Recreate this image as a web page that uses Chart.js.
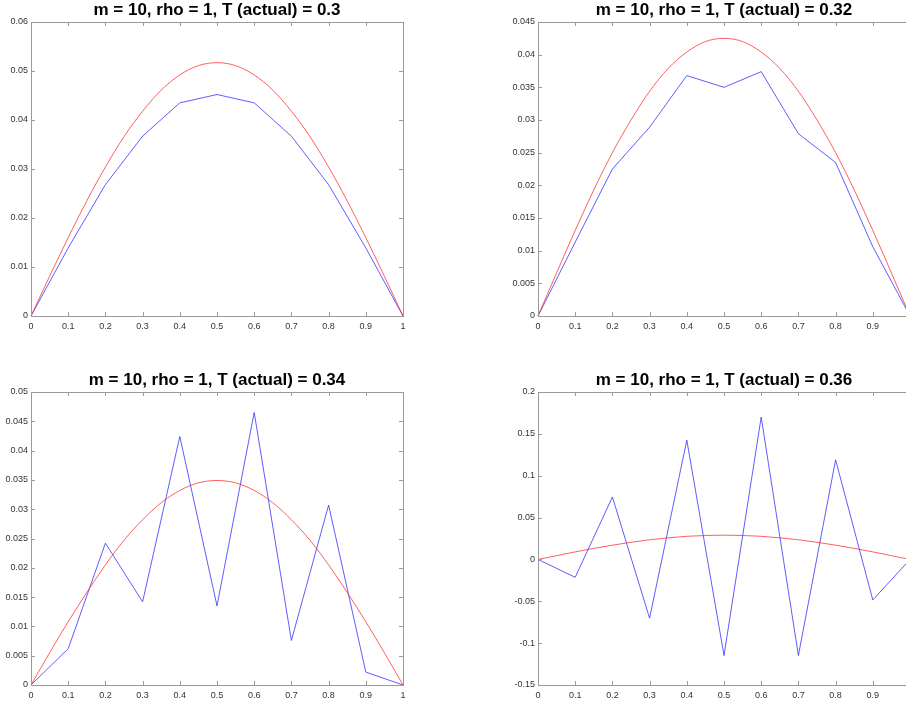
<!DOCTYPE html>
<html>
<head>
<meta charset="UTF-8">
<title>m = 10, rho = 1</title>
<script src="https://cdn.jsdelivr.net/npm/chart.js"></script>
<style>
  html, body { margin: 0; padding: 0; background: #fff; overflow: hidden; width: 906px; height: 702px; }
  .panel { position: absolute; }
</style>
</head>
<body>
<div class="panel" style="left:0;top:0;width:453px;height:351px"><canvas id="c1"></canvas></div>
<div class="panel" style="left:453px;top:0;width:520px;height:351px"><canvas id="c2"></canvas></div>
<div class="panel" style="left:0;top:351px;width:453px;height:351px"><canvas id="c3"></canvas></div>
<div class="panel" style="left:453px;top:351px;width:520px;height:351px"><canvas id="c4"></canvas></div>
<script>
// grid points of the numerical solution
const xNum = [0, 0.1, 0.2, 0.3, 0.4, 0.5, 0.6, 0.7, 0.8, 0.9, 1];
// finer points for the exact solution curve
const xExact = [0, 0.05, 0.1, 0.15, 0.2, 0.25, 0.3, 0.35, 0.4, 0.45, 0.5, 0.55, 0.6, 0.65, 0.7, 0.75, 0.8, 0.85, 0.9, 0.95, 1];

const titles = [
  'm = 10, rho = 1, T (actual) = 0.3',
  'm = 10, rho = 1, T (actual) = 0.32',
  'm = 10, rho = 1, T (actual) = 0.34',
  'm = 10, rho = 1, T (actual) = 0.36'
];

// T = 0.3
const approx1 = [0, 0.0139, 0.0268, 0.0367, 0.0435, 0.0452, 0.0435, 0.0367, 0.0268, 0.0139, 0];
const exact1 = [0, 0.0081, 0.0160, 0.0235, 0.0304, 0.0366, 0.0418, 0.0461, 0.0492, 0.0511, 0.0517,
                0.0511, 0.0492, 0.0461, 0.0418, 0.0366, 0.0304, 0.0235, 0.0160, 0.0081, 0];
// T = 0.32
const approx2 = [0, 0.0113, 0.0225, 0.0289, 0.0368, 0.0350, 0.0374, 0.0279, 0.0235, 0.0106, 0];
const exact2 = [0, 0.0066, 0.0131, 0.0193, 0.0250, 0.0300, 0.0344, 0.0379, 0.0404, 0.0420, 0.0425,
                0.0420, 0.0404, 0.0379, 0.0344, 0.0300, 0.0250, 0.0193, 0.0131, 0.0066, 0];
// T = 0.34
const approx3 = [0, 0.0062, 0.0242, 0.0142, 0.0424, 0.0135, 0.0465, 0.0076, 0.0307, 0.0022, 0];
const exact3 = [0, 0.0055, 0.0108, 0.0158, 0.0205, 0.0247, 0.0282, 0.0311, 0.0332, 0.0345, 0.0349,
                0.0345, 0.0332, 0.0311, 0.0282, 0.0247, 0.0205, 0.0158, 0.0108, 0.0055, 0];
// T = 0.36
const approx4 = [0, -0.0214, 0.0746, -0.0702, 0.1425, -0.1147, 0.1700, -0.1147, 0.1190, -0.0484, 0];
const exact4 = [0, 0.0045, 0.0090, 0.0132, 0.0170, 0.0205, 0.0235, 0.0258, 0.0276, 0.0286, 0.0290,
                0.0286, 0.0276, 0.0258, 0.0235, 0.0205, 0.0170, 0.0132, 0.0090, 0.0045, 0];

const yRanges = [
  { min: 0, max: 0.06, step: 0.01 },
  { min: 0, max: 0.045, step: 0.005 },
  { min: 0, max: 0.05, step: 0.005 },
  { min: -0.15, max: 0.2, step: 0.05 }
];

const AXIS = '#9a9a9a';
const LABEL = '#333333';
const FONT = '"Liberation Sans", Arial, Helvetica, sans-serif';

function pts(xs, ys) { return xs.map((x, i) => ({ x: x, y: ys[i] })); }

function fmt(v) { return String(Number(v.toFixed(4))); }

// matlab-like box with inward ticks, and the title
const boxPlugin = {
  id: 'matlabBox',
  afterDraw(chart, args, opts) {
    const { ctx, chartArea: a, scales } = chart;
    ctx.save();
    ctx.strokeStyle = AXIS;
    ctx.lineWidth = 1;
    ctx.strokeRect(Math.round(a.left) + 0.5, Math.round(a.top) + 0.5,
                   Math.round(a.right - a.left), Math.round(a.bottom - a.top));
    const tl = 4;
    ctx.beginPath();
    scales.x.ticks.forEach(t => {
      const px = Math.round(scales.x.getPixelForValue(t.value)) + 0.5;
      ctx.moveTo(px, a.bottom); ctx.lineTo(px, a.bottom - tl);
      ctx.moveTo(px, a.top); ctx.lineTo(px, a.top + tl);
    });
    scales.y.ticks.forEach(t => {
      const py = Math.round(scales.y.getPixelForValue(t.value)) + 0.5;
      ctx.moveTo(a.left, py); ctx.lineTo(a.left + tl, py);
      ctx.moveTo(a.right, py); ctx.lineTo(a.right - tl, py);
    });
    ctx.stroke();
    ctx.fillStyle = '#000';
    ctx.font = 'bold 17px ' + FONT;
    ctx.textAlign = 'center';
    ctx.textBaseline = 'bottom';
    ctx.fillText(opts.text, (a.left + a.right) / 2, a.top - 3);
    ctx.restore();
  }
};

function makeChart(id, title, approx, exact, yr, pad, yWidth, xHeight) {
  return new Chart(document.getElementById(id), {
    type: 'scatter',
    data: {
      datasets: [
        { data: pts(xExact, exact), showLine: true, borderColor: 'rgba(255,40,40,0.75)', borderWidth: 1,
          pointRadius: 0, tension: 0.4, cubicInterpolationMode: 'monotone' },
        { data: pts(xNum, approx), showLine: true, borderColor: 'rgba(40,40,255,0.75)', borderWidth: 1,
          pointRadius: 0, tension: 0 }
      ]
    },
    options: {
      responsive: true,
      maintainAspectRatio: false,
      animation: false,
      clip: false,
      layout: { padding: pad },
      plugins: { legend: { display: false }, tooltip: { enabled: false }, matlabBox: { text: title } },
      scales: {
        x: {
          type: 'linear', min: 0, max: 1,
          grid: { display: false, drawTicks: false },
          border: { display: false },
          ticks: { stepSize: 0.1, padding: 5, color: LABEL, font: { family: FONT, size: 9 },
                   maxRotation: 0, callback: v => fmt(v) },
          afterFit: s => { s.height = xHeight; }
        },
        y: {
          type: 'linear', min: yr.min, max: yr.max,
          grid: { display: false, drawTicks: false },
          border: { display: false },
          ticks: { stepSize: yr.step, padding: 3, color: LABEL, font: { family: FONT, size: 9 },
                   callback: v => fmt(v) },
          afterFit: s => { s.width = yWidth; }
        }
      }
    },
    plugins: [boxPlugin]
  });
}

makeChart('c1', titles[0], approx1, exact1, yRanges[0], { top: 22, right: 50, left: 0, bottom: 0 }, 31, 35);
makeChart('c2', titles[1], approx2, exact2, yRanges[1], { top: 22, right: 63, left: 0, bottom: 0 }, 85, 35);
makeChart('c3', titles[2], approx3, exact3, yRanges[2], { top: 41, right: 50, left: 0, bottom: 0 }, 31, 17);
makeChart('c4', titles[3], approx4, exact4, yRanges[3], { top: 41, right: 63, left: 0, bottom: 0 }, 85, 17);
</script>
</body>
</html>
